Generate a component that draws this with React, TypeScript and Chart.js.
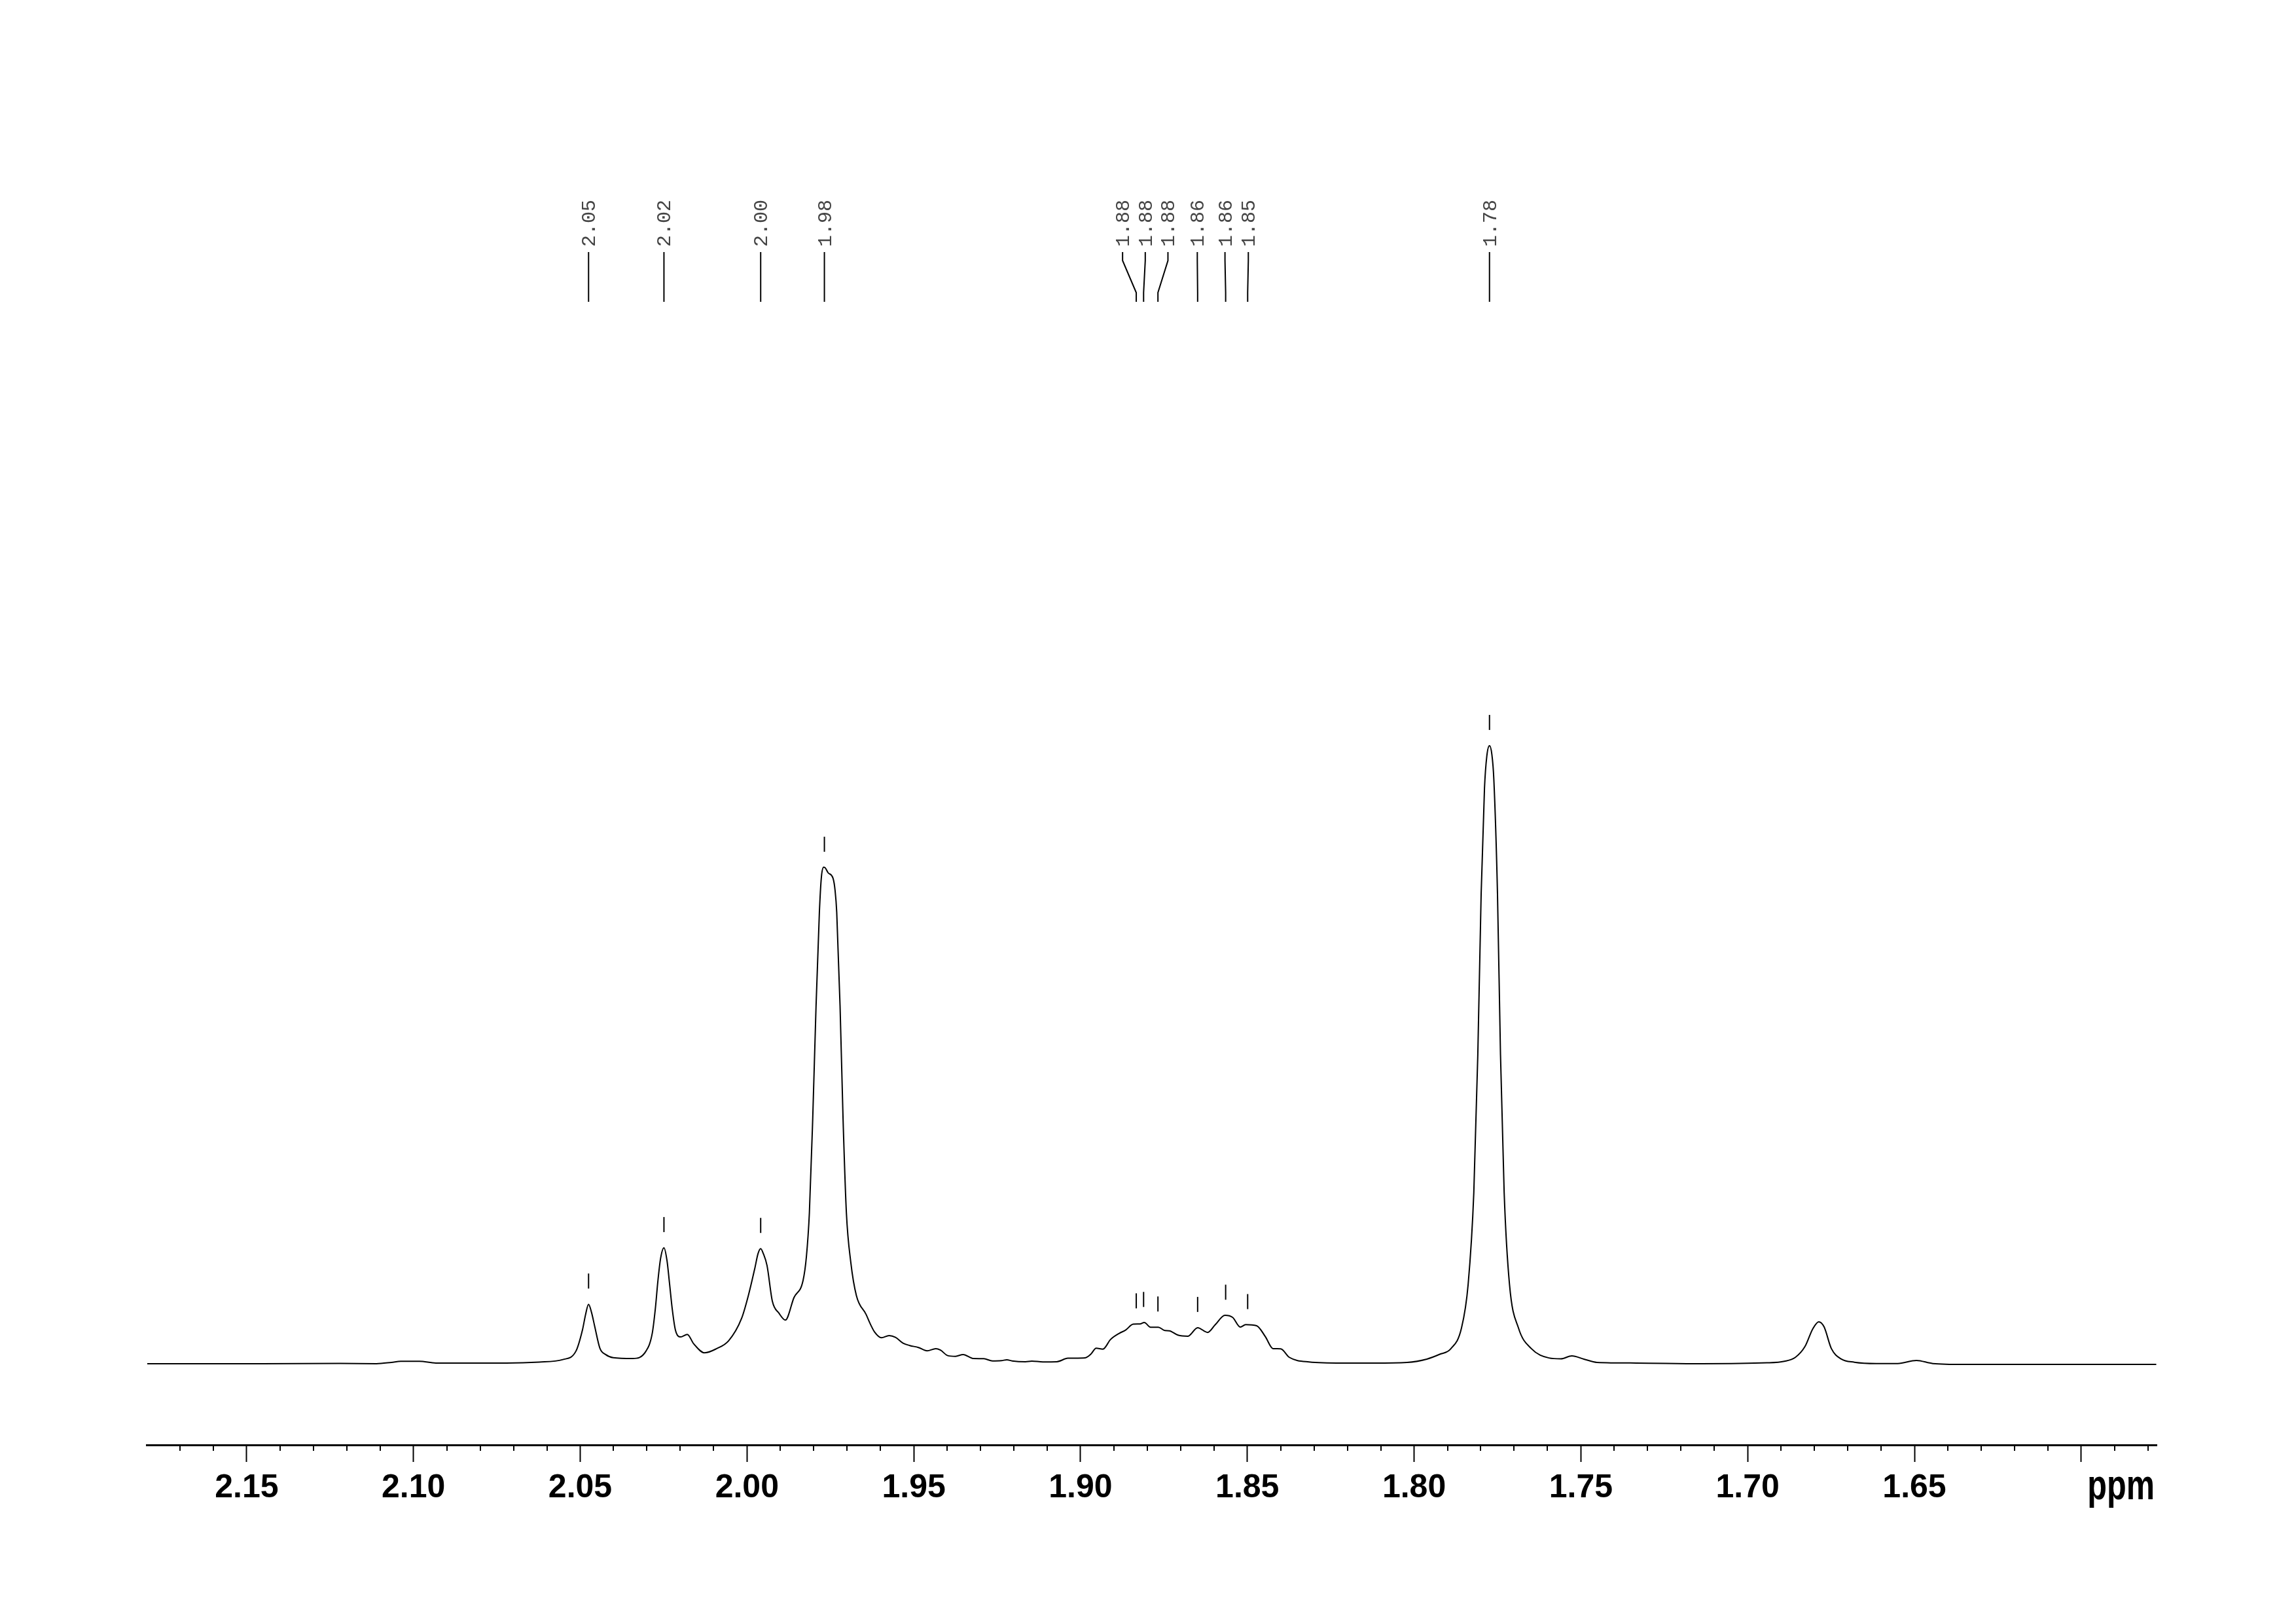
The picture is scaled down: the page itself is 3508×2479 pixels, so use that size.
import React, { useEffect, useRef } from "react";
import { Chart, registerables } from "chart.js";

Chart.register(...registerables);

// ---- spectrum (chemical shift in ppm, relative intensity) ----
const shiftPpm: number[] = [
  2.1798, 2.1454, 2.1219, 2.1111, 2.1066, 2.1038, 2.0982, 2.0933, 2.0866, 2.0721,
  2.0623, 2.0552, 2.0513, 2.0493, 2.0484, 2.0475, 2.0466, 2.0457, 2.0441, 2.0424,
  2.0401, 2.0343, 2.0303, 2.0284, 2.0275, 2.0267, 2.0259, 2.0249, 2.0240, 2.0232,
  2.0224, 2.0215, 2.0199, 2.0179, 2.0160, 2.0127, 2.0091, 2.0055, 2.0016, 1.9996,
  1.9976, 1.9967, 1.9959, 1.9951, 1.9940, 1.9924, 1.9904, 1.9885, 1.9859, 1.9832,
  1.9822, 1.9813, 1.9803, 1.9793, 1.9783, 1.9777, 1.9770, 1.9765, 1.9757, 1.9742,
  1.9736, 1.9731, 1.9721, 1.9712, 1.9702, 1.9689, 1.9672, 1.9643, 1.9630, 1.9617,
  1.9597, 1.9574, 1.9555, 1.9532, 1.9512, 1.9486, 1.9460, 1.9434, 1.9420, 1.9398,
  1.9375, 1.9352, 1.9322, 1.9290, 1.9264, 1.9237, 1.9221, 1.9205, 1.9165, 1.9146,
  1.9113, 1.9071, 1.9038, 1.8986, 1.8969, 1.8953, 1.8933, 1.8910, 1.8884, 1.8865,
  1.8842, 1.8822, 1.8809, 1.8790, 1.8767, 1.8747, 1.8734, 1.8708, 1.8678, 1.8649,
  1.8619, 1.8596, 1.8567, 1.8544, 1.8521, 1.8505, 1.8472, 1.8446, 1.8423, 1.8400,
  1.8374, 1.8315, 1.8217, 1.8119, 1.8021, 1.7962, 1.7923, 1.7890, 1.7858, 1.7838,
  1.7821, 1.7809, 1.7799, 1.7789, 1.7782, 1.7774, 1.7767, 1.7761, 1.7750, 1.7741,
  1.7730, 1.7714, 1.7687, 1.7648, 1.7596, 1.7560, 1.7527, 1.7491, 1.7452, 1.7334,
  1.7138, 1.6942, 1.6890, 1.6857, 1.6828, 1.6805, 1.6787, 1.6771, 1.6749, 1.6720,
  1.6680, 1.6615, 1.6550, 1.6494, 1.6445, 1.6353, 1.5775,
];

const intensity: number[] = [
  0, 0, 0.05, 0, 0.21, 0.39, 0.39, 0.11, 0.11, 0.11,
  0.26, 0.67, 2.01, 5.52, 7.92, 9.58, 8.24, 6.12, 2.49, 1.48,
  0.97, 0.84, 2.01, 4.91, 8.76, 13.41, 17.0, 18.69, 16.68, 12.8,
  8.76, 5.52, 4.31, 4.73, 3.22, 1.76, 2.43, 3.7, 7.34, 10.98,
  15.52, 17.74, 18.55, 17.74, 15.84, 10.07, 8.13, 7.03, 10.68, 13.41,
  17.21, 24.31, 39.47, 57.66, 72.81, 78.46, 80.08, 79.94, 79.18, 78.27,
  76.35, 72.81, 57.66, 39.47, 24.31, 16.43, 10.98, 7.95, 6.37, 5.07,
  4.19, 4.54, 4.26, 3.31, 2.93, 2.61, 2.08, 2.43, 2.19, 1.3,
  1.19, 1.48, 0.84, 0.81, 0.45, 0.5, 0.63, 0.45, 0.32, 0.42,
  0.29, 0.32, 0.88, 0.95, 1.55, 2.5, 2.35, 3.91, 4.89, 5.42,
  6.37, 6.41, 6.65, 5.88, 5.88, 5.35, 5.31, 4.61, 4.44, 5.81,
  5.04, 6.3, 7.81, 7.47, 5.91, 6.3, 6.12, 4.36, 2.43, 2.4,
  1.02, 0.29, 0.11, 0.11, 0.21, 0.74, 1.52, 2.41, 5.74, 12.78,
  27.59, 49.82, 75.74, 92.79, 97.99, 99.67, 98.31, 94.27, 75.74, 49.82,
  27.59, 12.78, 5.74, 2.41, 0.93, 0.78, 1.27, 0.74, 0.21, 0.11,
  0, 0.14, 0.39, 1.02, 2.78, 5.6, 6.76, 5.95, 2.43, 0.77,
  0.24, 0.03, 0.03, 0.53, 0.03, -0.11, -0.11,
];

// ---- axis ----
const axisMin = 1.5774;
const axisMax = 2.18;
const majorTicks: number[] = [2.15, 2.1, 2.05, 2.0, 1.95, 1.9, 1.85, 1.8, 1.75, 1.7, 1.65, 1.6];
const majorTickLabels: string[] = ["2.15", "2.10", "2.05", "2.00", "1.95", "1.90", "1.85", "1.80", "1.75", "1.70", "1.65", ""];
const minorTicks: number[] = [
  2.17, 2.16, 2.14, 2.13, 2.12, 2.11, 2.09, 2.08, 2.07, 2.06, 2.04, 2.03, 2.02, 2.01,
  1.99, 1.98, 1.97, 1.96, 1.94, 1.93, 1.92, 1.91, 1.89, 1.88, 1.87, 1.86, 1.84, 1.83,
  1.82, 1.81, 1.79, 1.78, 1.77, 1.76, 1.74, 1.73, 1.72, 1.71, 1.69, 1.68, 1.67, 1.66,
  1.64, 1.63, 1.62, 1.61, 1.59, 1.58,
];
const axisUnit = "ppm";

// ---- peak picking ----
const peakLabels: string[] = ["2.05", "2.02", "2.00", "1.98", "1.88", "1.88", "1.88", "1.86", "1.86", "1.85", "1.78"];
const peakShifts: number[] = [2.0475, 2.0249, 1.9959, 1.9768, 1.8833, 1.8811, 1.8768, 1.8649, 1.8565, 1.8499, 1.7774];
const peakLabelAnchors: number[] = [2.0475, 2.0249, 1.9959, 1.9768, 1.8874, 1.8806, 1.8738, 1.865, 1.8567, 1.8497, 1.7774];

function intensityAt(p: number): number {
  for (let i = 0; i < shiftPpm.length - 1; i++) {
    const a = shiftPpm[i];
    const b = shiftPpm[i + 1];
    if (p <= a && p >= b) {
      const t = (a - p) / (a - b);
      return intensity[i] + t * (intensity[i + 1] - intensity[i]);
    }
  }
  return 0;
}

const nmrDecor = {
  id: "nmrDecor",
  afterDraw(chart: any) {
    const { ctx, chartArea } = chart;
    const x = chart.scales.x;
    const y = chart.scales.y;
    ctx.save();

    // minor ticks
    ctx.strokeStyle = "#000";
    ctx.lineWidth = 2;
    ctx.beginPath();
    minorTicks.forEach((v) => {
      const px = Math.round(x.getPixelForValue(v));
      ctx.moveTo(px, chartArea.bottom);
      ctx.lineTo(px, chartArea.bottom + 9);
    });
    ctx.stroke();

    // unit label
    ctx.save();
    ctx.font = 'bold 64px "Liberation Sans", Arial, sans-serif';
    ctx.fillStyle = "#000";
    ctx.textAlign = "right";
    ctx.textBaseline = "alphabetic";
    ctx.translate(chartArea.right - 3, chartArea.bottom + 83);
    ctx.scale(0.76, 1);
    ctx.fillText(axisUnit, 0, 0);
    ctx.restore();

    // peak labels with connectors
    ctx.lineWidth = 2;
    ctx.strokeStyle = "#000";
    peakLabels.forEach((lab, i) => {
      const xl = x.getPixelForValue(peakLabelAnchors[i]);
      const xp = x.getPixelForValue(peakShifts[i]);
      ctx.beginPath();
      ctx.moveTo(xl, 385);
      ctx.lineTo(xl, 398);
      ctx.lineTo(xp, 447);
      ctx.lineTo(xp, 461);
      ctx.stroke();

      ctx.save();
      ctx.font = '30px "Liberation Mono", "DejaVu Sans Mono", monospace';
      ctx.fillStyle = "#444";
      ctx.textAlign = "left";
      ctx.textBaseline = "alphabetic";
      ctx.translate(xl + 10, 377);
      ctx.rotate(-Math.PI / 2);
      ctx.fillText(lab, 0, 0);
      ctx.restore();

      // small mark above the peak
      const yp = y.getPixelForValue(intensityAt(peakShifts[i]));
      ctx.beginPath();
      ctx.moveTo(xp, yp - 24);
      ctx.lineTo(xp, yp - 47);
      ctx.stroke();
    });

    ctx.restore();
  },
};

export default function App() {
  const canvasRef = useRef<HTMLCanvasElement | null>(null);

  useEffect(() => {
    const canvas = canvasRef.current;
    if (!canvas) return;
    const points = shiftPpm.map((p, i) => ({ x: p, y: intensity[i] }));
    const chart = new Chart(canvas, {
      type: "line",
      data: {
        datasets: [
          {
            data: points,
            borderColor: "#000",
            borderWidth: 2,
            pointRadius: 0,
            fill: false,
            cubicInterpolationMode: "monotone",
          },
        ],
      },
      options: {
        animation: false,
        responsive: false,
        devicePixelRatio: 1,
        events: [],
        layout: { padding: { left: 224, right: 213, top: 94, bottom: 172 } },
        plugins: {
          legend: { display: false },
          tooltip: { enabled: false },
          title: { display: false },
        },
        scales: {
          x: {
            type: "linear",
            reverse: true,
            min: axisMin,
            max: axisMax,
            position: "bottom",
            afterBuildTicks: (axis: any) => {
              axis.ticks = majorTicks.map((v) => ({ value: v }));
            },
            afterFit: (axis: any) => {
              axis.height = 100;
            },
            border: { display: true, color: "#000", width: 3 },
            grid: {
              display: true,
              drawOnChartArea: false,
              drawTicks: true,
              tickLength: 26,
              tickWidth: 2,
              tickColor: "#000",
            },
            ticks: {
              autoSkip: false,
              maxRotation: 0,
              minRotation: 0,
              padding: 10,
              color: "#000",
              font: { family: '"Liberation Sans", Arial, sans-serif', size: 50, weight: "bold" },
              callback: (_v: any, index: number) => majorTickLabels[index],
            },
          },
          y: {
            display: false,
            min: -13.1,
            max: 210,
          },
        },
      },
      plugins: [nmrDecor],
    });
    return () => chart.destroy();
  }, []);

  return (
    <div style={{ position: "absolute", left: 0, top: 0, width: 3508, height: 2479, background: "#fff" }}>
      <canvas ref={canvasRef} width={3508} height={2479} style={{ display: "block" }} />
    </div>
  );
}
